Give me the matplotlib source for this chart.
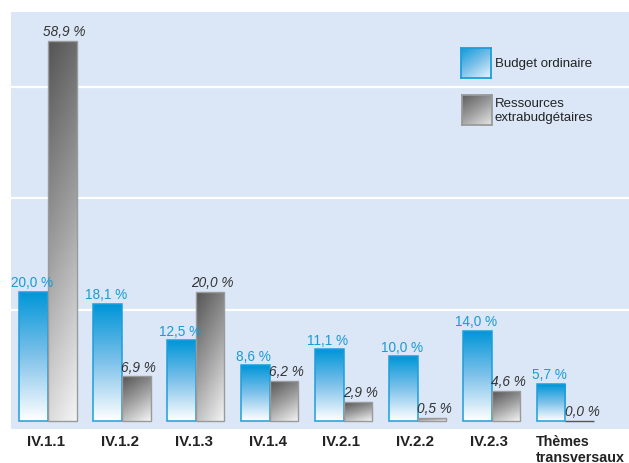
import numpy as np
import matplotlib
matplotlib.use("Agg")
import matplotlib.pyplot as plt
from matplotlib.colors import LinearSegmentedColormap

# ── data ────────────────────────────────────────────────────────────────────
categories = ["IV.1.1", "IV.1.2", "IV.1.3", "IV.1.4",
              "IV.2.1", "IV.2.2", "IV.2.3", "Thèmes\ntransversaux"]
budget_ordinaire = [20.0, 18.1, 12.5, 8.6, 11.1, 10.0, 14.0, 5.7]
extrabudgetaires = [58.9, 6.9, 20.0, 6.2, 2.9, 0.5, 4.6, 0.0]
legend_labels = ["Budget ordinaire", "Ressources\nextrabudgétaires"]

# ── style ───────────────────────────────────────────────────────────────────
C_BG = "#dbe7f6"
C_BLUE = "#0096d8"
C_BLUE_EDGE = "#1c9edb"
C_GREY_EDGE = "#9a9a9a"
C_TEXT = "#222222"
SANS = ["Liberation Sans", "DejaVu Sans"]

blue_cmap = LinearSegmentedColormap.from_list("b", ["#ffffff", "#7fc2ea", C_BLUE])
grey_cmap = LinearSegmentedColormap.from_list("g", ["#f4f4f4", "#a0a0a0", "#555555"])


def fmt(v):
    return f"{v:.1f} %".replace(".", ",")


def grad_fill(ax, bar, cmap, diag=0.0):
    x0, y0 = bar.get_x(), bar.get_y()
    w, h = bar.get_width(), bar.get_height()
    if h <= 0:
        return
    yy, xx = np.mgrid[0:1:100j, 0:1:20j]
    g = (1 - diag) * yy + diag * (1 - xx)
    im = ax.imshow(g, cmap=cmap, extent=(x0, x0 + w, y0, y0 + h),
                   origin="lower", aspect="auto", zorder=2, vmin=0, vmax=1)
    im.set_clip_path(bar)


fig = plt.figure(figsize=(6.29, 4.64), dpi=100)
ax = fig.add_axes([11 / 629, 34 / 464, 618 / 629, 417 / 464])
ax.set_facecolor(C_BG)
for s in ax.spines.values():
    s.set_visible(False)

x = np.arange(len(categories))
w = 0.388

bars_b = ax.bar(x - w / 2, budget_ordinaire, w, facecolor="none",
                edgecolor=C_BLUE_EDGE, linewidth=1.1, zorder=3)
bars_g = ax.bar(x + w / 2, extrabudgetaires, w, facecolor="none",
                edgecolor=C_GREY_EDGE, linewidth=1.0, zorder=3)
for b in bars_b:
    grad_fill(ax, b, blue_cmap)
for b, v in zip(bars_g, extrabudgetaires):
    grad_fill(ax, b, grey_cmap, diag=0.15 if v > 30 else 0.3)
    if v == 0:
        b.set_edgecolor("#555555")

for xi, v in zip(x, budget_ordinaire):
    ax.text(xi - w / 2 - 0.02, v + 0.9, fmt(v), ha="center", va="baseline",
            fontsize=9.8, color="#1a9ad6", family=SANS, zorder=4)
for xi, v in zip(x, extrabudgetaires):
    ax.text(xi + w / 2 + 0.03, v + 0.9, fmt(v), ha="center", va="baseline",
            fontsize=9.8, color="#333333", style="italic", family=SANS,
            zorder=4)

ax.set_xlim(-0.5, 7.86)
ax.set_ylim(-1.25, 63.4)
ax.set_yticks([17.25, 34.5, 51.75])
ax.yaxis.grid(True, color="white", linewidth=1.6, zorder=0)
ax.set_axisbelow(True)
ax.tick_params(left=False, labelleft=False, bottom=False, labelbottom=False)

# category labels
xt = ax.get_xaxis_transform()
for xi, lab in zip(x, categories):
    if "\n" in lab:
        ax.text(xi - w - 0.01, -0.012, lab, transform=xt, ha="left", va="top",
                fontsize=10.3, fontweight="bold", color=C_TEXT, family=SANS,
                linespacing=1.15)
    else:
        ax.text(xi - 0.03, -0.012, lab, transform=xt, ha="center", va="top",
                fontsize=10.8, fontweight="bold", color=C_TEXT, family=SANS)

# legend
for (x0, y0), cmap, ec, lab in [((0.728, 0.842), blue_cmap, C_BLUE_EDGE, legend_labels[0]),
                                ((0.730, 0.729), grey_cmap, C_GREY_EDGE, legend_labels[1])]:
    lax = ax.inset_axes([x0, y0, 0.0485, 0.072])
    yy, xx = np.mgrid[0:1:50j, 0:1:50j]
    lax.imshow(0.6 * yy + 0.4 * (1 - xx), cmap=cmap, origin="lower",
               aspect="auto", vmin=-0.1, vmax=1.05)
    lax.set_xticks([])
    lax.set_yticks([])
    for s in lax.spines.values():
        s.set_color(ec)
        s.set_linewidth(1.3)
    ax.text(0.783, y0 + 0.036, lab, transform=ax.transAxes, ha="left",
            va="center", fontsize=9.5, color=C_TEXT, family=SANS,
            linespacing=1.2)

fig.savefig("out.png", dpi=100)
